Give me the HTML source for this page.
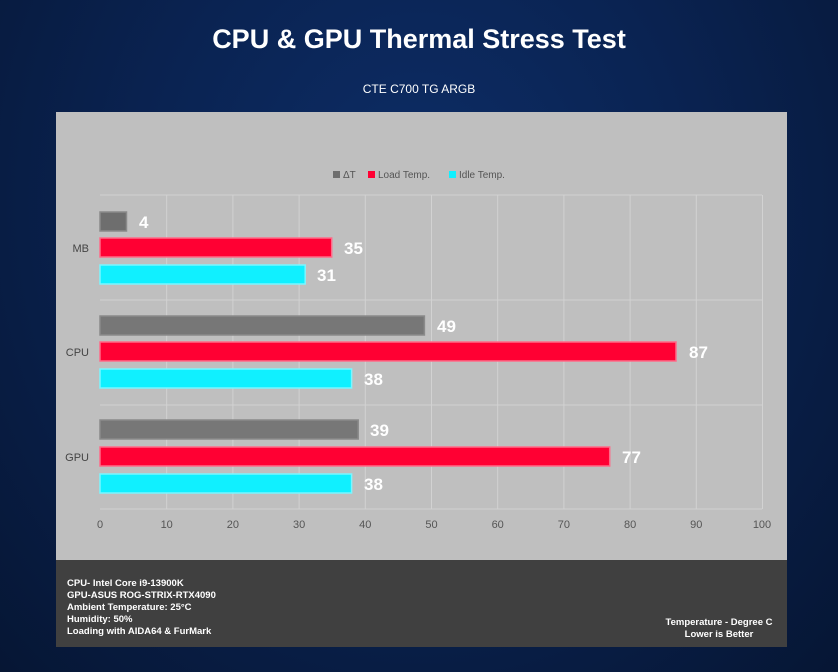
<!DOCTYPE html>
<html><head><style>
html,body{margin:0;padding:0}
body{width:838px;height:672px;overflow:hidden;background:radial-gradient(ellipse at 50% 30%,#0d2d66 0%,#0a2352 45%,#061634 100%);font-family:"Liberation Sans",sans-serif;position:relative}
.t{position:absolute;color:#fff;white-space:nowrap}
</style></head><body>
<div class="t" style="left:0;width:838px;text-align:center;top:24px;font-size:27px;font-weight:bold">CPU &amp; GPU Thermal Stress Test</div>
<div class="t" style="left:0;width:838px;text-align:center;top:82px;font-size:12px">CTE C700 TG ARGB</div>
<svg style="position:absolute;left:0;top:0" width="838" height="672">
<rect x="56" y="112" width="731" height="448" fill="#bfbfbf"/>
<rect x="56" y="560" width="731" height="87" fill="#404040"/>
<g stroke="#d2d2d2" stroke-width="1">
<line x1="166.7" y1="195" x2="166.7" y2="509"/><line x1="232.9" y1="195" x2="232.9" y2="509"/><line x1="299.1" y1="195" x2="299.1" y2="509"/><line x1="365.3" y1="195" x2="365.3" y2="509"/><line x1="431.5" y1="195" x2="431.5" y2="509"/><line x1="497.7" y1="195" x2="497.7" y2="509"/><line x1="563.9" y1="195" x2="563.9" y2="509"/><line x1="630.1" y1="195" x2="630.1" y2="509"/><line x1="696.3" y1="195" x2="696.3" y2="509"/><line x1="762.5" y1="195" x2="762.5" y2="509"/>
<line x1="100" y1="195" x2="762" y2="195"/><line x1="100" y1="300" x2="762" y2="300"/><line x1="100" y1="405" x2="762" y2="405"/><line x1="100" y1="509" x2="762" y2="509"/>
</g>
<g font-family="Liberation Sans,sans-serif" font-size="11" fill="#555" text-anchor="middle">
<text x="100" y="528">0</text><text x="166.7" y="528">10</text><text x="232.9" y="528">20</text><text x="299.1" y="528">30</text><text x="365.3" y="528">40</text><text x="431.5" y="528">50</text><text x="497.7" y="528">60</text><text x="563.9" y="528">70</text><text x="630.1" y="528">80</text><text x="696.3" y="528">90</text><text x="762" y="528">100</text>
</g>
<g font-family="Liberation Sans,sans-serif" font-size="11" fill="#444" text-anchor="end">
<text x="89" y="252">MB</text><text x="89" y="356">CPU</text><text x="89" y="461">GPU</text>
</g>
<g font-family="Liberation Sans,sans-serif" font-size="10" fill="#555">
<rect x="333" y="171" width="7" height="7" fill="#6e6e6e"/><text x="343" y="178">ΔT</text>
<rect x="368" y="171" width="7" height="7" fill="#ff0033"/><text x="378" y="178">Load Temp.</text>
<rect x="449" y="171" width="7" height="7" fill="#10f0ff"/><text x="459" y="178">Idle Temp.</text>
</g>
<g stroke-width="1.5">
<rect x="100" y="212" width="26.5" height="19" fill="#6e6e6e" stroke="#8a8a8a"/>
<rect x="100" y="238" width="231.7" height="19" fill="#ff0033" stroke="#ff6a88"/>
<rect x="100" y="265" width="205.2" height="19" fill="#10f0ff" stroke="#7af6ff"/>
<rect x="100" y="316" width="324.4" height="19" fill="#777" stroke="#8a8a8a"/>
<rect x="100" y="342" width="576" height="19" fill="#ff0033" stroke="#ff6a88"/>
<rect x="100" y="369" width="251.6" height="19" fill="#10f0ff" stroke="#7af6ff"/>
<rect x="100" y="420" width="258.2" height="19" fill="#777" stroke="#8a8a8a"/>
<rect x="100" y="447" width="509.7" height="19" fill="#ff0033" stroke="#ff6a88"/>
<rect x="100" y="474" width="251.6" height="19" fill="#10f0ff" stroke="#7af6ff"/>
</g>
<g font-family="Liberation Sans,sans-serif" font-size="17" font-weight="bold" fill="#fff">
<text x="139" y="228">4</text><text x="344" y="254">35</text><text x="317" y="281">31</text>
<text x="437" y="332">49</text><text x="689" y="358">87</text><text x="364" y="385">38</text>
<text x="370" y="436">39</text><text x="622" y="463">77</text><text x="364" y="490">38</text>
</g>
<g font-family="Liberation Sans,sans-serif" font-size="9.5" font-weight="bold" fill="#fff">
<text x="67" y="586">CPU- Intel Core i9-13900K</text>
<text x="67" y="598">GPU-ASUS ROG-STRIX-RTX4090</text>
<text x="67" y="610">Ambient Temperature: 25°C</text>
<text x="67" y="622">Humidity: 50%</text>
<text x="67" y="634">Loading with AIDA64  &amp; FurMark</text>
<text x="719" y="625" text-anchor="middle">Temperature - Degree C</text>
<text x="719" y="637" text-anchor="middle">Lower is Better</text>
</g>
</svg>
</body></html>
